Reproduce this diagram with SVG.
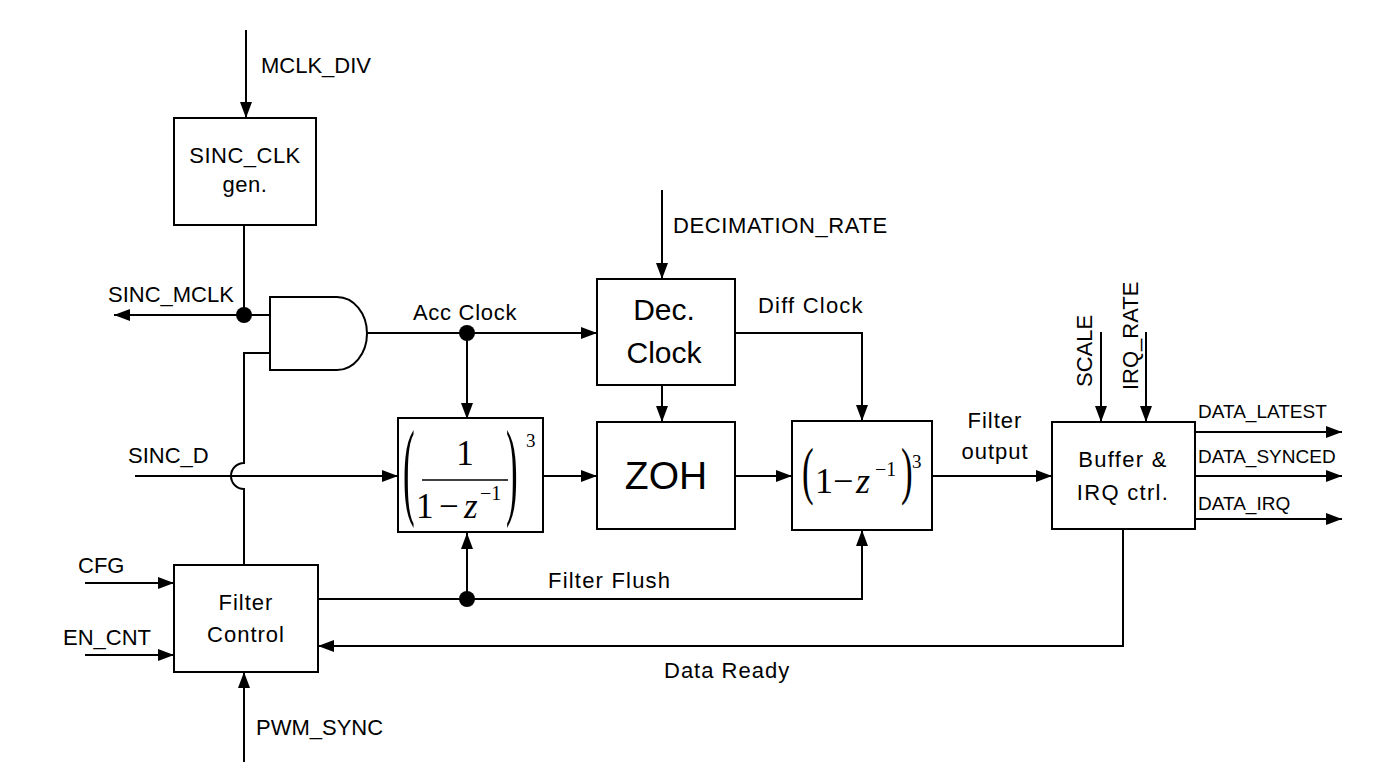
<svg xmlns="http://www.w3.org/2000/svg" width="1393" height="771" viewBox="0 0 1393 771">
<defs>
<style>
.box{fill:#fff;stroke:#000;stroke-width:2}
.ln{fill:none;stroke:#000;stroke-width:2}
.arr{marker-end:url(#ah)}
.t{font-family:"Liberation Sans",Arial,sans-serif;font-size:22px;fill:#000}
.s{font-family:"Liberation Sans",Arial,sans-serif;font-size:19px;fill:#000}
.m{font-family:"Liberation Serif","Times New Roman",serif;fill:#000}
.dot{fill:#000}
</style>
<marker id="ah" markerWidth="16" markerHeight="12" refX="16" refY="6" orient="auto" markerUnits="userSpaceOnUse">
<path d="M0,0 L16,6 L0,12 Z" fill="#000"/>
</marker>
</defs>
<rect width="1393" height="771" fill="#fff"/>

<g id="connectors">
<path class="ln arr" d="M246,30 V118"/>
<path class="ln" d="M244,225 V315"/>
<path class="ln arr" d="M270,315 H114"/>
<path class="ln" d="M270,353 H244 V463 A13,13 0 0 0 244,489 V565"/>
<path class="ln arr" d="M367,333 H597"/>
<path class="ln arr" d="M467,333 V419"/>
<path class="ln arr" d="M662,190 V279"/>
<path class="ln arr" d="M662,385 V422"/>
<path class="ln arr" d="M735,333 H862 V421"/>
<path class="ln arr" d="M135,476 H398"/>
<path class="ln arr" d="M543,476 H597"/>
<path class="ln arr" d="M735,476 H792"/>
<path class="ln arr" d="M932,476 H1052"/>
<path class="ln arr" d="M1101,332 V422"/>
<path class="ln arr" d="M1146,332 V422"/>
<path class="ln arr" d="M1195,432 H1342"/>
<path class="ln arr" d="M1195,476 H1342"/>
<path class="ln arr" d="M1195,519 H1342"/>
<path class="ln arr" d="M1123,529 V646 H318"/>
<path class="ln arr" d="M318,599 H862 V530"/>
<path class="ln arr" d="M467,599 V533"/>
<path class="ln arr" d="M85,583 H174"/>
<path class="ln arr" d="M85,655 H174"/>
<path class="ln arr" d="M244,762 V672"/>
<circle class="dot" cx="244" cy="315" r="8"/>
<circle class="dot" cx="467" cy="333" r="8"/>
<circle class="dot" cx="467" cy="599" r="8"/>
</g>

<g id="labels">
<text class="t" x="261" y="73">MCLK_DIV</text>
<text class="t" x="108" y="302">SINC_MCLK</text>
<text class="t" x="413" y="320" letter-spacing="0.7">Acc Clock</text>
<text class="t" x="673" y="233" letter-spacing="0.6">DECIMATION_RATE</text>
<text class="t" x="758" y="313" letter-spacing="1.2">Diff Clock</text>
<text class="t" x="128" y="463">SINC_D</text>
<text class="t" x="995" y="428" text-anchor="middle" letter-spacing="1">Filter</text>
<text class="t" x="995" y="459" text-anchor="middle" letter-spacing="1">output</text>
<text class="t" x="548" y="588" letter-spacing="1.2">Filter Flush</text>
<text class="t" x="664" y="678" letter-spacing="1">Data Ready</text>
<text class="t" x="78" y="573">CFG</text>
<text class="t" x="63" y="645">EN_CNT</text>
<text class="t" x="256" y="735">PWM_SYNC</text>
<text class="t" transform="translate(1092,387) rotate(-90)">SCALE</text>
<text class="t" transform="translate(1138,390) rotate(-90)">IRQ_RATE</text>
<text class="s" x="1198" y="418">DATA_LATEST</text>
<text class="s" x="1198" y="463">DATA_SYNCED</text>
<text class="s" x="1198" y="510">DATA_IRQ</text>
</g>

<g id="sinc-clk-gen">
<rect class="box" x="174" y="118" width="142" height="107"/>
<text class="t" x="245" y="163" text-anchor="middle" letter-spacing="0.5">SINC_CLK</text>
<text class="t" x="245" y="192" text-anchor="middle" letter-spacing="0.5">gen.</text>
</g>

<g id="and-gate">
<path class="box" d="M270,297 H337 A30,36.5 0 0 1 337,370 H270 Z"/>
</g>

<g id="dec-clock">
<rect class="box" x="597" y="279" width="138" height="106"/>
<text class="t" x="664" y="320" text-anchor="middle" style="font-size:30px">Dec.</text>
<text class="t" x="664" y="363" text-anchor="middle" style="font-size:30px">Clock</text>
</g>

<g id="integrator">
<rect class="box" x="398" y="418" width="145" height="114"/>
<text class="m" style="font-size:35px" transform="translate(403,505) scale(1,3.1)">(</text>
<text class="m" style="font-size:35px" x="465" y="465" text-anchor="middle">1</text>
<path class="ln" d="M422,480 H508" style="stroke-width:1.6"/>
<text class="m" style="font-size:35px" x="416" y="518">1</text>
<text class="m" style="font-size:35px" x="439" y="518">−</text>
<text class="m" style="font-size:35px;font-style:italic" x="464" y="518">z</text>
<text class="m" style="font-size:20px" x="480" y="500">−1</text>
<text class="m" style="font-size:35px" transform="translate(506,505) scale(1,3.1)">)</text>
<text class="m" style="font-size:19px" x="526" y="447">3</text>
</g>

<g id="zoh">
<rect class="box" x="597" y="422" width="138" height="107"/>
<text class="t" x="666" y="489" text-anchor="middle" style="font-size:39px">ZOH</text>
</g>

<g id="differentiator">
<rect class="box" x="792" y="421" width="140" height="109"/>
<text class="m" style="font-size:35px" transform="translate(802,492) scale(1,1.8)">(</text>
<text class="m" style="font-size:36px" x="815" y="493">1</text>
<text class="m" style="font-size:36px" x="833" y="493">−</text>
<text class="m" style="font-size:36px;font-style:italic" x="856" y="493">z</text>
<text class="m" style="font-size:20px" x="875" y="476">−1</text>
<text class="m" style="font-size:35px" transform="translate(901,492) scale(1,1.8)">)</text>
<text class="m" style="font-size:19px" x="912" y="468">3</text>
</g>

<g id="buffer-irq">
<rect class="box" x="1052" y="422" width="143" height="107"/>
<text class="t" x="1123" y="467" text-anchor="middle" letter-spacing="1.3">Buffer &amp;</text>
<text class="t" x="1123" y="500" text-anchor="middle" letter-spacing="1.3">IRQ ctrl.</text>
</g>

<g id="filter-control">
<rect class="box" x="174" y="565" width="144" height="107"/>
<text class="t" x="246" y="610" text-anchor="middle" letter-spacing="1">Filter</text>
<text class="t" x="246" y="642" text-anchor="middle" letter-spacing="1">Control</text>
</g>
</svg>
